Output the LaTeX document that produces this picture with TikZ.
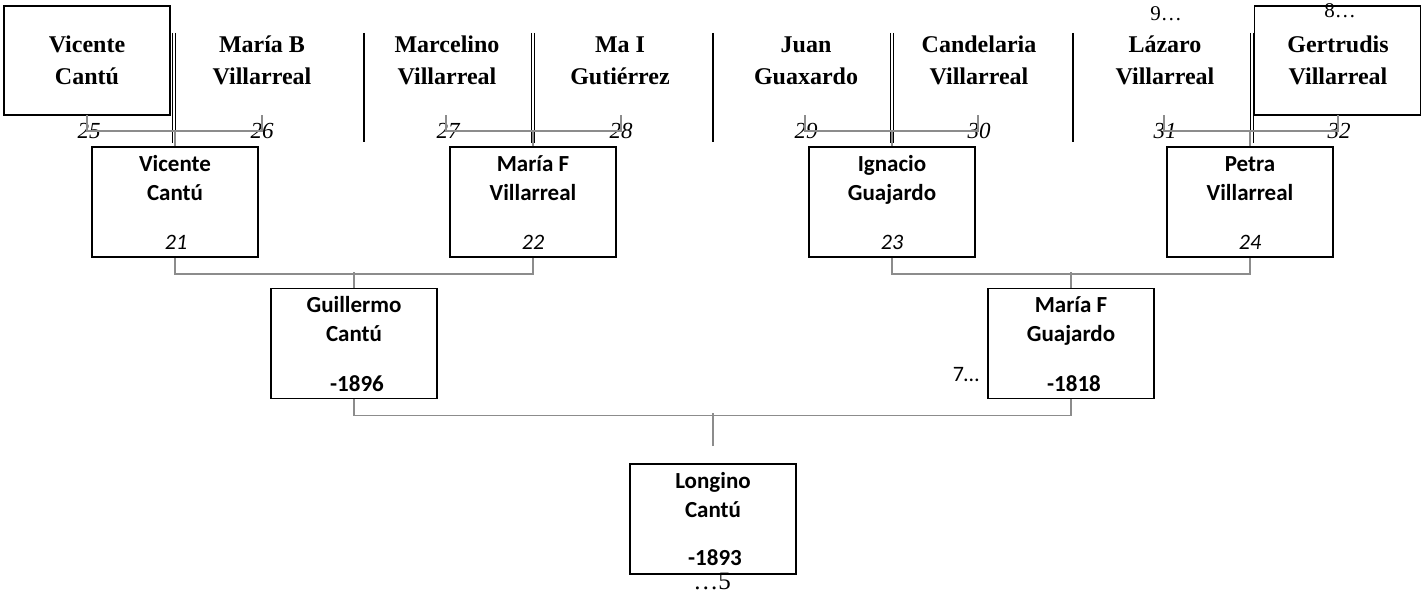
\documentclass[tikz,border=0pt]{standalone}
\usepackage{fontspec}
\setmainfont{Liberation Serif}
\newfontfamily\calfont{Carlito}
\usetikzlibrary{calc}
\definecolor{connGray}{RGB}{140,140,140}
\begin{document}
\begin{tikzpicture}[x=1pt,y=-1pt,
  pbox/.style={draw=black,line width=1.8pt,minimum width=166pt,minimum height=110pt,inner sep=0pt},
  tbox/.style={draw=black,line width=1.8pt,minimum width=166pt,minimum height=109pt,inner sep=0pt},
  cname/.style={font=\calfont\bfseries\fontsize{23}{29}\selectfont,align=center,inner sep=0pt},
  cnum/.style={font=\calfont\itshape\fontsize{22}{26}\selectfont,inner sep=0pt},
  cyear/.style={font=\calfont\bfseries\fontsize{23}{27}\selectfont,inner sep=0pt},
  tname/.style={font=\bfseries\fontsize{24}{32}\selectfont,align=center,inner sep=0pt},
  tnum/.style={font=\itshape\fontsize{23}{27}\selectfont,inner sep=0pt},
  tnote/.style={font=\fontsize{21}{25}\selectfont,inner sep=0pt},
  conn/.style={draw=connGray,line width=1.5pt},
  sep/.style={draw=black,line width=1.8pt},
  dsep/.style={draw=black,line width=0.9pt}
]
\useasboundingbox (0,0) rectangle (1421,594);

% ---------- generation 5 (top row) ----------
\node[tbox] (g5a) at (87,60.5) {};
\node[tbox] (g5h) at (1337.5,60.5) {};

\node[tname] (n25) at (87,62) {\strut Vicente\\Cantú\strut};
\node[tname] (n26) at (262,62) {\strut María B\\Villarreal\strut};
\node[tname] (n27) at (447,62) {\strut Marcelino\\Villarreal\strut};
\node[tname] (n28) at (620,62) {\strut Ma I\\Gutiérrez\strut};
\node[tname] (n29) at (806,62) {\strut Juan\\Guaxardo\strut};
\node[tname] (n30) at (979,62) {\strut Candelaria\\Villarreal\strut};
\node[tname] (n31) at (1165,62) {\strut Lázaro\\Villarreal\strut};
\node[tname] (n32) at (1338,62) {\strut Gertrudis\\Villarreal\strut};

\node[tnote] (m9) at (1166,14) {9…};
\node[tnote] (m8) at (1340,11) {8…};

\node[tnum] (l25) at (89,131) {25};
\node[tnum] (l26) at (262,131) {26};
\node[tnum] (l27) at (448,131) {27};
\node[tnum] (l28) at (621,131) {28};
\node[tnum] (l29) at (806,131) {29};
\node[tnum] (l30) at (979,131) {30};
\node[tnum] (l31) at (1165,131) {31};
\node[tnum] (l32) at (1339,131) {32};

% separators
\draw[sep] (364,33) -- (364,142);
\draw[sep] (713,33) -- (713,142);
\draw[sep] (1073,33) -- (1073,142);
\foreach \xx in {174,533,892,1252}{
  \draw[dsep] (\xx-1.2,33) -- (\xx-1.2,143);
  \draw[dsep] (\xx+1.8,33) -- (\xx+1.8,143);
}

% ---------- generation 4 ----------
\node[pbox] (g4a) at (175,202) {};
\node[pbox] (g4b) at (533,202) {};
\node[pbox] (g4c) at (892,202) {};
\node[pbox] (g4d) at (1250,202) {};

\node[cname] (t21) at (175,180) {\strut Vicente\\Cantú\strut};
\node[cname] (t22) at (533,180) {\strut María F\\Villarreal\strut};
\node[cname] (t23) at (892,180) {\strut Ignacio\\Guajardo\strut};
\node[cname] (t24) at (1250,180) {\strut Petra\\Villarreal\strut};
\node[cnum] (k21) at (176,242) {21};
\node[cnum] (k22) at (533,242) {22};
\node[cnum] (k23) at (892,242) {23};
\node[cnum] (k24) at (1250,242) {24};

% ---------- generation 3 ----------
\node[pbox] (g3a) at (354,343.5) {};
\node[pbox] (g3b) at (1071,343.5) {};
\node[cname] (t19) at (354,321) {\strut Guillermo\\Cantú\strut};
\node[cname] (t20) at (1071,321) {\strut María F\\Guajardo\strut};
\node[cyear] (y19) at (357,384) {-1896};
\node[cyear] (y20) at (1074,384) {-1818};
\node[font=\calfont\fontsize{22}{26}\selectfont,inner sep=0pt] (m7) at (966,375) {7…};

% ---------- generation 2 ----------
\node[pbox] (g2) at (713,519) {};
\node[cname] (t10) at (713,497) {\strut Longino\\Cantú\strut};
\node[cyear] (y10) at (715,558) {-1893};
\node[font=\fontsize{25}{29}\selectfont,inner sep=0pt] (m5) at (712,581) {…5};

% ---------- connectors ----------
\coordinate (c25) at (87,115);
\coordinate (c26) at (262,115);
\coordinate (c27) at (446,115);
\coordinate (c28) at (621,115);
\coordinate (c29) at (805,115);
\coordinate (c30) at (978,115);
\coordinate (c31) at (1164,115);
\coordinate (c32) at (1338,115);

\draw[conn] (c25) -- ++(0,16) -| (c26);
\draw[conn] (c27) -- ++(0,16) -| (c28);
\draw[conn] (c29) -- ++(0,16) -| (c30);
\draw[conn] (c31) -- ++(0,16) -| (c32);
\draw[conn] (g4a.north) -- ++(0,-16);
\draw[conn] (g4b.north) -- ++(0,-16);
\draw[conn] (g4c.north) -- ++(0,-16);
\draw[conn] (g4d.north) -- ++(0,-16);

\draw[conn] (g4a.south) -- ++(0,16) -| (g4b.south);
\draw[conn] (g4c.south) -- ++(0,16) -| (g4d.south);
\draw[conn] (g3a.north) -- ++(0,-16);
\draw[conn] (g3b.north) -- ++(0,-16);

\draw[conn] (g3a.south) -- ++(0,16) -| (g3b.south);
\coordinate (j2) at ($(g2.north)+(0,-17)$);
\draw[conn] (j2) -- ++(0,-33);
\end{tikzpicture}
\end{document}
